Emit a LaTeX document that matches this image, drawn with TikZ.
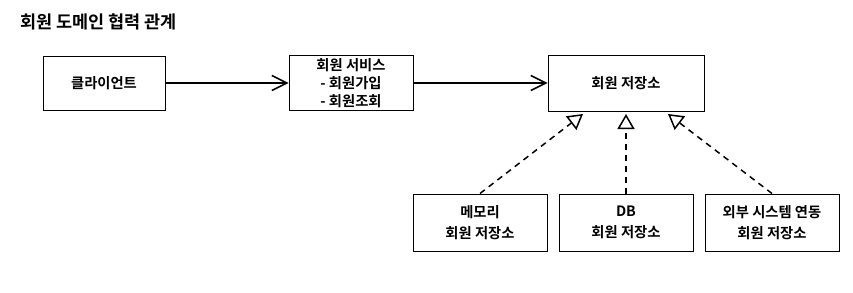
\documentclass[tikz,border=0pt]{standalone}
\usepackage{fontspec}
\newfontfamily\kr{Noto Sans CJK KR}[BoldFont={Noto Sans CJK KR Bold}]
\usetikzlibrary{arrows.meta}
\tikzstyle{unit}=[draw, line width=1pt, align=center, font=\kr\bfseries\fontsize{14.3}{18}\selectfont, inner sep=0pt]
\tikzstyle{uses}=[line width=1.5pt, -{Straight Barb[length=15pt, width=15pt, line width=1.5pt]}]
\tikzstyle{impl}=[line width=1.5pt, dash pattern=on 6pt off 5pt, -{Triangle[open, length=15pt, width=17pt, line width=1.5pt, fill=white]}]

\begin{document}
\begin{tikzpicture}[x=1pt, y=-1pt]
				\useasboundingbox (0,0) rectangle (853,292);

				\node[anchor=west, font=\kr\bfseries\fontsize{17.5}{20}\selectfont, inner sep=0pt] (title) at (20,22) {회원 도메인 협력 관계};

				\node[unit, minimum width=122pt, minimum height=54pt] (client) at (104,83) {클라이언트};
				\node[unit, minimum width=124pt, minimum height=55pt] (service) at (351,83) {회원 서비스\\- 회원가입\\- 회원조회};
				\node[unit, minimum width=156pt, minimum height=56pt] (repo) at (626,83) {회원 저장소};

				\node[unit, minimum width=134pt, minimum height=57pt] (memory) at (480,222.5) {메모리\\[3pt]회원 저장소};
				\node[unit, minimum width=134pt, minimum height=57pt] (db) at (626,222.5) {DB\\[3pt]회원 저장소};
				\node[unit, minimum width=134pt, minimum height=57pt] (external) at (772,222.5) {외부 시스템 연동\\[3pt]회원 저장소};

				\coordinate (tipl) at (583,114);
				\coordinate (tipm) at (626,114);
				\coordinate (tipr) at (668,114);

				\draw[uses] (client) -- (service);
				\draw[uses] (service) -- (repo);

				\draw[impl] (memory.north) -- (tipl);
				\draw[impl] (db.north) -- (tipm);
				\draw[impl] (external.north) -- (tipr);
			\end{tikzpicture}
\end{document}
